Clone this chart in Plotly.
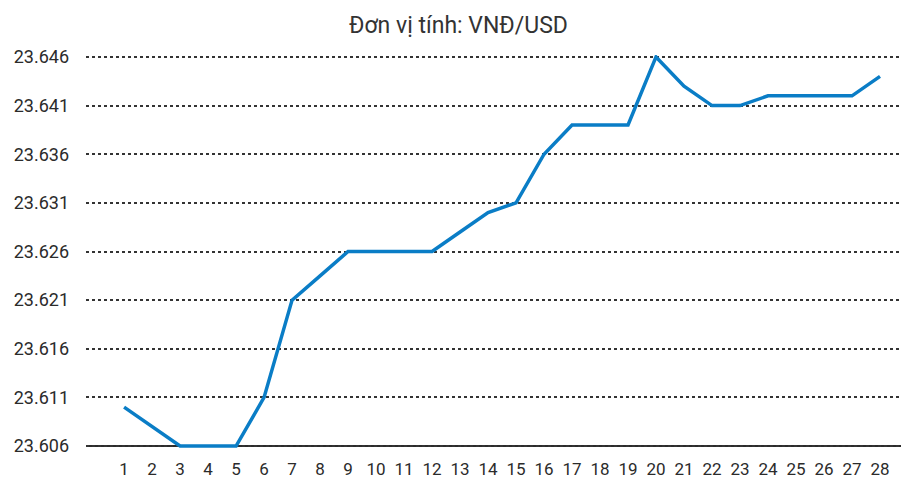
import plotly.graph_objects as go

# Exchange rate by day (VND/USD)
days = list(range(1, 29))
rates = [23610, 23608, 23606, 23606, 23606, 23611, 23621, 23623.5, 23626, 23626,
         23626, 23626, 23628, 23630, 23631, 23636, 23639, 23639, 23639, 23646,
         23643, 23641, 23641, 23642, 23642, 23642, 23642, 23644]

y_ticks = [23606, 23611, 23616, 23621, 23626, 23631, 23636, 23641, 23646]
y_labels = ["23.606", "23.611", "23.616", "23.621", "23.626",
            "23.631", "23.636", "23.641", "23.646"]

FONT = "Roboto, sans-serif"

fig = go.Figure()
fig.add_trace(go.Scatter(
    x=days, y=rates, mode="lines",
    line=dict(color="#0a7dc6", width=3.5),
    hoverinfo="x+y",
))

# solid baseline along the lowest tick
fig.add_shape(type="line", xref="paper", x0=0, x1=1, yref="y",
              y0=y_ticks[0], y1=y_ticks[0],
              line=dict(color="#2b2b2b", width=2), layer="below")

# page body adds ~8px offset, so the figure is sized a bit smaller
fig.update_layout(
    width=901, height=476,
    paper_bgcolor="white", plot_bgcolor="white",
    margin=dict(l=78, r=1, t=47, b=36),
    showlegend=False,
    font=dict(family=FONT, size=18, color="#2b2b2b"),
    title=dict(text="Đơn vị tính: VNĐ/USD", x=0.5, xanchor="center",
               y=0.965, yanchor="middle",
               font=dict(family=FONT, size=23, color="#333333")),
)

fig.update_xaxes(
    range=[-0.36, 29], tickvals=days, ticktext=[str(d) for d in days],
    showgrid=False, zeroline=False, showline=False,
    ticks="outside", ticklen=6, tickcolor="rgba(0,0,0,0)",
    tickfont=dict(family=FONT, size=17, color="#2b2b2b"),
)
fig.update_yaxes(
    range=[23605.8, 23646.2], tickvals=y_ticks, ticktext=y_labels,
    showgrid=True, gridcolor="#333333", gridwidth=1.5, griddash="dot",
    zeroline=False, showline=False, ticklabelstandoff=16,
    tickfont=dict(family=FONT, size=18, color="#2b2b2b"),
)

fig.write_html("out.html")
